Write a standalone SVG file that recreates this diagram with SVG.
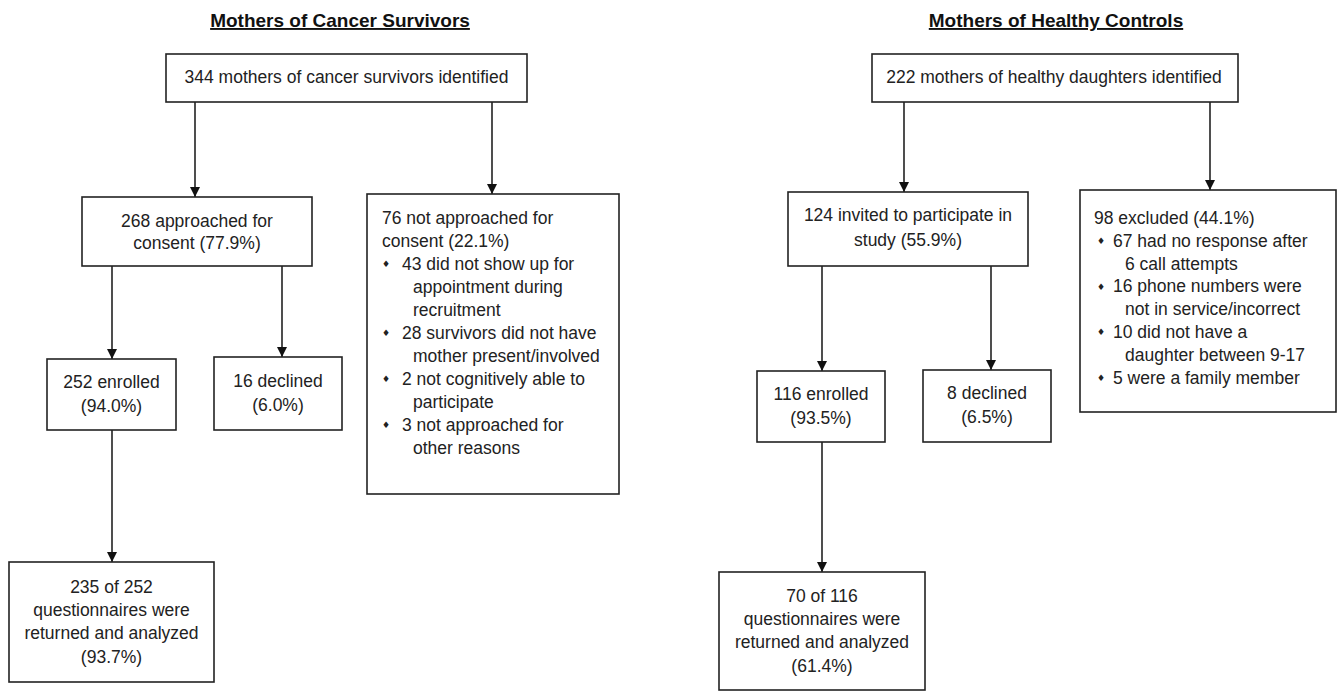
<svg xmlns="http://www.w3.org/2000/svg" width="1342" height="692" viewBox="0 0 1342 692">
<defs>
<style>
.box{fill:#fff;stroke:#222;stroke-width:1.6}
.t{font-family:"Liberation Sans",Arial,sans-serif;font-size:17.5px;fill:#222}
.c{text-anchor:middle}
.b{font-family:"DejaVu Sans",sans-serif;font-size:9px;fill:#222;text-anchor:middle}
.title{font-family:"Liberation Sans",Arial,sans-serif;font-size:19px;font-weight:bold;fill:#111;text-anchor:middle;text-decoration:underline}
.con{stroke:#222;stroke-width:1.6;fill:none;marker-end:url(#arr)}
</style>
<marker id="arr" markerUnits="userSpaceOnUse" markerWidth="10" markerHeight="11" refX="10" refY="5" orient="auto">
<path d="M0,0 L10,5 L0,10 z" fill="#111"/>
</marker>
</defs>
<rect width="1342" height="692" fill="#fff"/>
<text class="title" x="340" y="27">Mothers of Cancer Survivors</text>
<text class="title" x="1056" y="27">Mothers of Healthy Controls</text>

<g id="connectors">
<line class="con" x1="195" y1="102" x2="195" y2="197"/>
<line class="con" x1="492" y1="102" x2="492" y2="194"/>
<line class="con" x1="112" y1="266" x2="112" y2="359"/>
<line class="con" x1="282" y1="266" x2="282" y2="357"/>
<line class="con" x1="112" y1="430" x2="112" y2="562"/>
<line class="con" x1="904" y1="102" x2="904" y2="192"/>
<line class="con" x1="1210" y1="102" x2="1210" y2="190"/>
<line class="con" x1="822" y1="266" x2="822" y2="371"/>
<line class="con" x1="991" y1="266" x2="991" y2="370"/>
<line class="con" x1="822" y1="442" x2="822" y2="572"/>
</g>

<g id="n344">
<rect class="box" x="166" y="54" width="361" height="48"/>
<text class="t c" x="346.5" y="83">344 mothers of cancer survivors identified</text>
</g>
<g id="n268">
<rect class="box" x="82" y="197" width="230" height="69"/>
<text class="t c" x="197" y="227">268 approached for</text>
<text class="t c" x="197" y="249">consent (77.9%)</text>
</g>
<g id="n76">
<rect class="box" x="367" y="194" width="252" height="300"/>
<text class="t" x="382" y="224">76 not approached for</text>
<text class="t" x="382" y="247">consent (22.1%)</text>
<text class="b" x="386" y="267">♦</text>
<text class="t" x="402" y="270">43 did not show up for</text>
<text class="t" x="413" y="293">appointment during</text>
<text class="t" x="413" y="316">recruitment</text>
<text class="b" x="386" y="336">♦</text>
<text class="t" x="402" y="339">28 survivors did not have</text>
<text class="t" x="413" y="362">mother present/involved</text>
<text class="b" x="386" y="382">♦</text>
<text class="t" x="402" y="385">2 not cognitively able to</text>
<text class="t" x="413" y="408">participate</text>
<text class="b" x="386" y="428">♦</text>
<text class="t" x="402" y="431">3 not approached for</text>
<text class="t" x="413" y="454">other reasons</text>
</g>
<g id="n252">
<rect class="box" x="47" y="359" width="129" height="71"/>
<text class="t c" x="111.5" y="388">252 enrolled</text>
<text class="t c" x="111.5" y="412">(94.0%)</text>
</g>
<g id="n16">
<rect class="box" x="214" y="357" width="128" height="73"/>
<text class="t c" x="278" y="387">16 declined</text>
<text class="t c" x="278" y="411">(6.0%)</text>
</g>
<g id="n235">
<rect class="box" x="9" y="562" width="205" height="120"/>
<text class="t c" x="111.5" y="593">235 of 252</text>
<text class="t c" x="111.5" y="616">questionnaires were</text>
<text class="t c" x="111.5" y="639">returned and analyzed</text>
<text class="t c" x="111.5" y="663">(93.7%)</text>
</g>

<g id="n222">
<rect class="box" x="872" y="54" width="366" height="48"/>
<text class="t c" x="1054" y="83">222 mothers of healthy daughters identified</text>
</g>
<g id="n124">
<rect class="box" x="788" y="192" width="240" height="74"/>
<text class="t c" x="908" y="221">124 invited to participate in</text>
<text class="t c" x="908" y="246">study (55.9%)</text>
</g>
<g id="n98">
<rect class="box" x="1080" y="190" width="256" height="222"/>
<text class="t" x="1094" y="224">98 excluded (44.1%)</text>
<text class="b" x="1101" y="244">♦</text>
<text class="t" x="1113" y="247">67 had no response after</text>
<text class="t" x="1125" y="270">6 call attempts</text>
<text class="b" x="1101" y="290">♦</text>
<text class="t" x="1113" y="292">16 phone numbers were</text>
<text class="t" x="1125" y="315">not in service/incorrect</text>
<text class="b" x="1101" y="335">♦</text>
<text class="t" x="1113" y="338">10 did not have a</text>
<text class="t" x="1125" y="361">daughter between 9-17</text>
<text class="b" x="1101" y="381">♦</text>
<text class="t" x="1113" y="384">5 were a family member</text>
</g>
<g id="n116">
<rect class="box" x="757" y="371" width="128" height="71"/>
<text class="t c" x="821" y="400">116 enrolled</text>
<text class="t c" x="821" y="424">(93.5%)</text>
</g>
<g id="n8">
<rect class="box" x="923" y="370" width="128" height="72"/>
<text class="t c" x="987" y="399">8 declined</text>
<text class="t c" x="987" y="423">(6.5%)</text>
</g>
<g id="n70">
<rect class="box" x="719" y="572" width="206" height="118"/>
<text class="t c" x="822" y="602">70 of 116</text>
<text class="t c" x="822" y="625">questionnaires were</text>
<text class="t c" x="822" y="648">returned and analyzed</text>
<text class="t c" x="822" y="672">(61.4%)</text>
</g>
</svg>
